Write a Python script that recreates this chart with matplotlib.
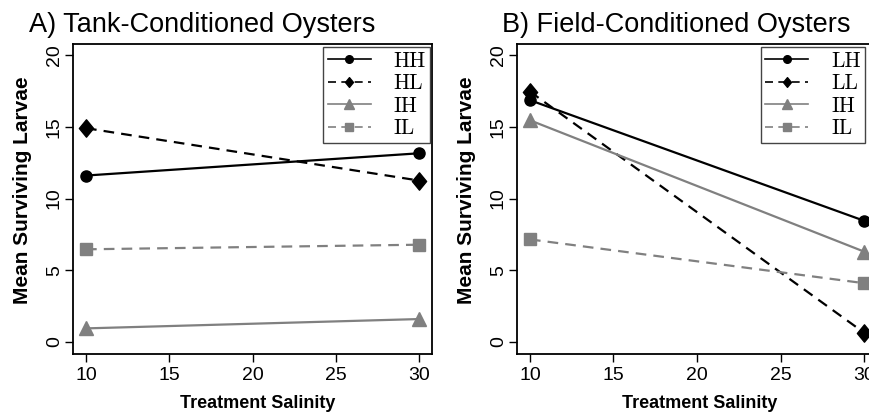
import matplotlib
matplotlib.use("Agg")
import matplotlib.pyplot as plt
from matplotlib.lines import Line2D
from matplotlib.path import Path
from matplotlib.font_manager import FontProperties

# ---- data ----
salinity = [10, 30]
xticks = [10, 15, 20, 25, 30]
yticks = [0, 5, 10, 15, 20]

tank_labels = ["HH", "HL", "IH", "IL"]
tank_HH = [11.6, 13.15]
tank_HL = [14.9, 11.25]
tank_IH = [0.95, 1.6]
tank_IL = [6.46, 6.78]

field_labels = ["LH", "LL", "IH", "IL"]
field_LH = [16.85, 8.45]
field_LL = [17.45, 0.65]
field_IH = [15.45, 6.3]
field_IL = [7.15, 4.1]

titles = ["A) Tank-Conditioned Oysters", "B) Field-Conditioned Oysters"]
xlabel = "Treatment Salinity"
ylabel = "Mean Surviving Larvae"

# ---- style ----
GRAY = "#808080"
diamond = Path([(0, 1), (0.82, 0), (0, -1), (-0.82, 0), (0, 1)], closed=True)
dash = (0, (4.8, 3.2))
styles = [
    dict(color="black", ls="-", marker="o", ms=8, lms=5.5),
    dict(color="black", ls=dash, marker=diamond, ms=12.5, lms=7),
    dict(color=GRAY, ls="-", marker="^", ms=10, lms=7.5),
    dict(color=GRAY, ls=dash, marker="s", ms=8.5, lms=5.5),
]

plt.rcParams["font.family"] = ["Liberation Sans", "DejaVu Sans"]

fig = plt.figure(figsize=(8.69, 4.2), dpi=100)
W, H = 869.0, 420.0
axes_px = [(72.7, 432.3), (516.6, 877.4)]
bottom_px, top_px = 353.5, 43.5

panels = [
    (tank_labels, [tank_HH, tank_HL, tank_IH, tank_IL], 0.9936),
    (field_labels, [field_LH, field_LL, field_IH, field_IL], 0.9656),
]
title_x = [29, 502]
xlabel_x = [258, 700]
ylabel_x = [28, 472]

legend_font = FontProperties(family="cmr10", size=15.5)

for i, (labels, series, leg_x) in enumerate(panels):
    l, r = axes_px[i]
    ax = fig.add_axes([l / W, (H - bottom_px) / H, (r - l) / W, (bottom_px - top_px) / H])
    handles = []
    for vals, st, lab in zip(series, styles, labels):
        ax.plot(salinity, vals, color=st["color"], ls=st["ls"], lw=1.6,
                marker=st["marker"], ms=st["ms"], mec=st["color"], mfc=st["color"],
                clip_on=False, zorder=3)
        handles.append(Line2D([], [], color=st["color"], ls=st["ls"], lw=1.2,
                              marker=st["marker"], ms=st["lms"],
                              mec=st["color"], mfc=st["color"], label=lab))
    ax.set_xlim(9.2, 30.8)
    ax.set_ylim(-0.8, 20.8)
    ax.set_xticks(xticks)
    ax.set_yticks(yticks)
    ax.tick_params(axis="both", direction="out", length=5.5, width=1.0,
                   labelsize=14, color="black")
    ax.tick_params(axis="x", pad=4.5)
    ax.tick_params(axis="y", pad=1.5, labelrotation=90)
    for lab in ax.get_yticklabels():
        lab.set_verticalalignment("center")
    for sp in ax.spines.values():
        sp.set_linewidth(1.3)
    leg = ax.legend(handles=handles, loc="upper right", bbox_to_anchor=(leg_x, 0.9887),
                    prop=legend_font, frameon=True, fancybox=False, framealpha=1,
                    edgecolor="#444444", borderpad=0.2, labelspacing=0.14,
                    handlelength=2.0, handletextpad=1.05, borderaxespad=0.0)
    leg.get_frame().set_linewidth(1.0)

    fig.text(title_x[i] / W, (H - 32) / H, titles[i], fontsize=19.5,
             ha="left", va="baseline")
    fig.text(xlabel_x[i] / W, (H - 408) / H, xlabel, fontsize=13, fontweight="bold",
             ha="center", va="baseline")
    fig.text(ylabel_x[i] / W, (H - 190) / H, ylabel, fontsize=15, fontweight="bold",
             ha="center", va="baseline", rotation=90, rotation_mode="anchor")

fig.savefig("out.png", dpi=100)
